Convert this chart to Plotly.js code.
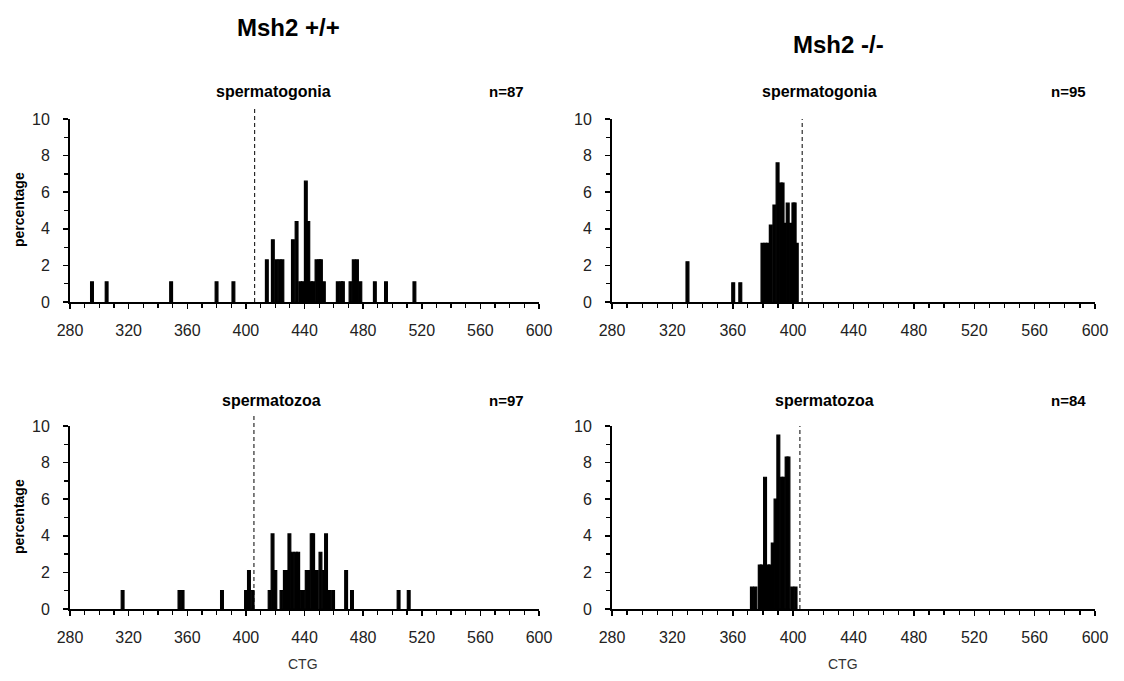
<!DOCTYPE html>
<html>
<head>
<meta charset="utf-8">
<script src="https://cdn.plot.ly/plotly-3.0.1.min.js"></script>
<style>html,body{margin:0;padding:0;background:#fff;}#chart{width:1124px;height:681px;}</style>
</head>
<body>
<div id="chart"></div>
<script>
// ---- data ----
// Msh2 +/+ spermatogonia (n=87)
const TL_CTG = [295, 305, 349, 380, 391.5, 414.3, 418.4, 420.8, 423.0, 424.9, 432.1, 434.6, 437.1, 438.9, 440.9, 442.6, 444.3, 445.9, 448.2, 450.1, 451.2, 453.2, 462.7, 465.0, 466.2, 471.4, 473.6, 475.8, 478.1, 488, 495.6, 515];
const TL_PCT = [1.1, 1.1, 1.1, 1.1, 1.1, 2.3, 3.4, 2.3, 2.3, 2.3, 3.4, 4.4, 1.1, 1.1, 6.6, 4.4, 1.1, 1.1, 2.3, 2.3, 2.3, 1.1, 1.1, 1.1, 1.1, 1.1, 2.3, 2.3, 1.1, 1.1, 1.1, 1.1];
// Msh2 -/- spermatogonia (n=95)
const TR_CTG = [330, 360.3, 365, 379.7, 381.6, 383.2, 385.2, 387.6, 389.7, 391.8, 393.0, 394.4, 396.4, 398.3, 400.2, 401.0, 402.4];
const TR_PCT = [2.2, 1.05, 1.05, 3.2, 3.2, 3.2, 4.2, 5.3, 7.6, 6.5, 6.5, 4.3, 5.4, 4.3, 5.4, 5.4, 3.2];
// Msh2 +/+ spermatozoa (n=97)
const BL_CTG = [315.9, 354.7, 356.8, 383.7, 400.1, 402.1, 404.6, 416.2, 418.2, 420.1, 424.3, 426.6, 427.8, 429.7, 431.7, 434.0, 435.7, 438.1, 439.2, 441.5, 442.5, 444.9, 445.9, 448.4, 450.9, 453.0, 454.7, 456.9, 459.5, 468.4, 472.4, 504.2, 511.1];
const BL_PCT = [1.0, 1.0, 1.0, 1.0, 1.0, 2.1, 1.0, 1.0, 4.1, 2.1, 1.0, 2.1, 2.1, 4.1, 3.1, 3.1, 3.1, 1.0, 1.0, 2.1, 2.1, 4.1, 4.1, 2.1, 3.1, 2.1, 4.1, 1.0, 1.0, 2.1, 1.0, 1.0, 1.0];
// Msh2 -/- spermatozoa (n=84)
const BR_CTG = [372.7, 375.0, 377.9, 379.2, 381.4, 383.4, 384.6, 386.5, 388.35, 390.2, 392.3, 393.6, 395.7, 396.9, 399.4, 401.6];
const BR_PCT = [1.2, 1.2, 2.4, 2.4, 7.2, 2.4, 2.4, 3.6, 6.0, 9.5, 7.2, 7.2, 8.3, 8.3, 1.2, 1.2];

const PANEL_TITLES = ['spermatogonia', 'spermatogonia', 'spermatozoa', 'spermatozoa'];
const PANEL_N = ['n=87', 'n=95', 'n=97', 'n=84'];
const GROUP_TITLES = ['Msh2 +/+', 'Msh2 -/-'];
const PROGENITOR_CTG = [406, 406, 405.5, 404.5];

// ---- layout helpers ----
const W = 1124, H = 681;
const px = v => v / W;
const py = v => 1 - v / H;

const BAR_W = 1.9;
function barTrace(x, y, n) {
  return {type: 'bar', x: x, y: y, xaxis: 'x' + (n === 1 ? '' : n), yaxis: 'y' + (n === 1 ? '' : n),
    width: BAR_W, marker: {color: '#000', line: {color: '#000', width: 1.2}}, hoverinfo: 'x+y', showlegend: false};
}
const data = [
  barTrace(TL_CTG, TL_PCT, 1),
  barTrace(TR_CTG, TR_PCT, 2),
  barTrace(BL_CTG, BL_PCT, 3),
  barTrace(BR_CTG, BR_PCT, 4)
];

const tickFont = {family: 'Liberation Sans, Arial, sans-serif', size: 16, color: '#222'};
function xAxis(dom, anchor) {
  return {domain: dom, anchor: anchor, range: [280, 600], tick0: 280, dtick: 40,
    ticks: 'outside', ticklen: 5, tickwidth: 1.5, tickcolor: '#000',
    minor: {dtick: 10, tick0: 280, ticks: 'outside', ticklen: 4, tickwidth: 1.2, tickcolor: '#000', showgrid: false},
    showline: true, linecolor: '#000', linewidth: 2, showgrid: false, zeroline: false,
    tickfont: tickFont, ticklabelstandoff: 8, fixedrange: true};
}
function yAxis(dom, anchor) {
  return {domain: dom, anchor: anchor, range: [0, 10], tick0: 0, dtick: 2,
    ticks: 'outside', ticklen: 5, tickwidth: 1.5, tickcolor: '#000',
    minor: {dtick: 1, ticks: 'outside', ticklen: 4, tickwidth: 1.2, tickcolor: '#000', showgrid: false},
    showline: true, linecolor: '#000', linewidth: 2, showgrid: false, zeroline: false,
    tickfont: tickFont, ticklabelstandoff: 10, fixedrange: true};
}
const XL = [px(70), px(539)], XR = [px(612), px(1095)];
const YT = [py(302), py(119)], YB = [py(609), py(426)];

const boldFont = (s) => ({family: 'Liberation Sans, Arial, sans-serif', size: s, color: '#000', weight: 'bold'});
function ann(text, x, y, font, extra) {
  return Object.assign({text: text, xref: 'paper', yref: 'paper', x: px(x), y: py(y), xanchor: 'center', yanchor: 'middle', showarrow: false, font: font}, extra || {});
}
const annotations = [
  ann('<b>' + GROUP_TITLES[0] + '</b>', 288, 28, boldFont(24)),
  ann('<b>' + GROUP_TITLES[1] + '</b>', 838, 45, boldFont(24)),
  ann('<b>' + PANEL_TITLES[0] + '</b>', 273, 92, boldFont(16)),
  ann('<b>' + PANEL_N[0] + '</b>', 506, 92, boldFont(15)),
  ann('<b>' + PANEL_TITLES[1] + '</b>', 819, 92, boldFont(16)),
  ann('<b>' + PANEL_N[1] + '</b>', 1068, 92, boldFont(15)),
  ann('<b>' + PANEL_TITLES[2] + '</b>', 271, 400, boldFont(16)),
  ann('<b>' + PANEL_N[2] + '</b>', 506, 400, boldFont(15)),
  ann('<b>' + PANEL_TITLES[3] + '</b>', 824, 400, boldFont(16)),
  ann('<b>' + PANEL_N[3] + '</b>', 1068, 400, boldFont(15)),
  ann('<b>percentage</b>', 19, 210, boldFont(14), {textangle: -90}),
  ann('<b>percentage</b>', 19, 517, boldFont(14), {textangle: -90}),
  ann('CTG', 303, 664, {family: 'Liberation Sans, Arial, sans-serif', size: 14, color: '#333'}),
  ann('CTG', 843, 664, {family: 'Liberation Sans, Arial, sans-serif', size: 14, color: '#333'})
];

function dashLine(n, ctg, top) {
  const s = n === 1 ? '' : String(n);
  return {type: 'line', xref: 'x' + s, yref: 'y' + s + ' domain', x0: ctg, x1: ctg, y0: 0, y1: top,
    line: {color: '#000', width: 1, dash: '4px,3px'}, layer: 'above'};
}
const shapes = [
  dashLine(1, PROGENITOR_CTG[0], 1.06),
  dashLine(2, PROGENITOR_CTG[1], 1.0),
  dashLine(3, PROGENITOR_CTG[2], 1.06),
  dashLine(4, PROGENITOR_CTG[3], 1.0)
];

const layout = {
  width: W, height: H, margin: {l: 0, r: 0, t: 0, b: 0},
  paper_bgcolor: '#fff', plot_bgcolor: '#fff', barmode: 'overlay', showlegend: false,
  xaxis: xAxis(XL, 'y'), yaxis: yAxis(YT, 'x'),
  xaxis2: xAxis(XR, 'y2'), yaxis2: yAxis(YT, 'x2'),
  xaxis3: xAxis(XL, 'y3'), yaxis3: yAxis(YB, 'x3'),
  xaxis4: xAxis(XR, 'y4'), yaxis4: yAxis(YB, 'x4'),
  annotations: annotations, shapes: shapes
};
Plotly.newPlot('chart', data, layout, {displayModeBar: false, staticPlot: true});
</script>
</body>
</html>
